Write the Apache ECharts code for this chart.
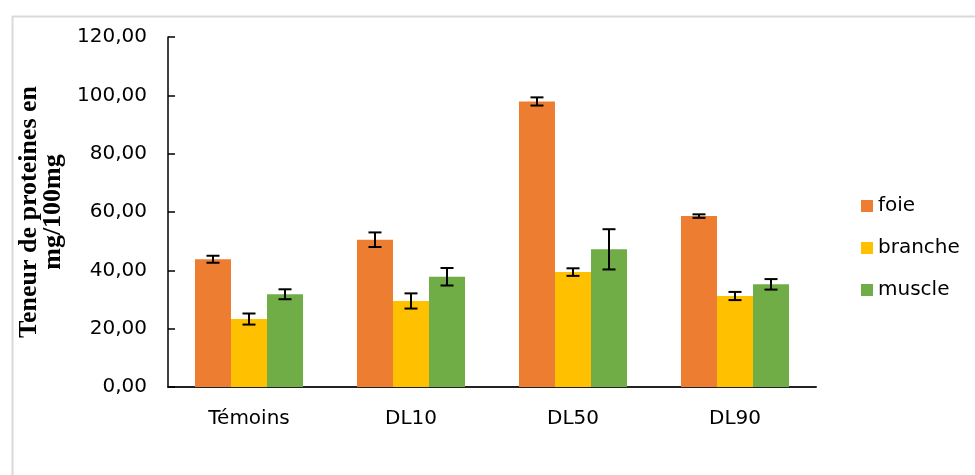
<!DOCTYPE html>
<html>
<head>
<meta charset="utf-8">
<script src="https://cdn.jsdelivr.net/npm/echarts@6/dist/echarts.min.js"></script>
<style>html,body{margin:0;padding:0;background:#fff;}#chart{width:975px;height:475px;}</style>
</head>
<body>
<div id="chart"></div>
<script>
const categories = ['Témoins', 'DL10', 'DL50', 'DL90'];
const seriesNames = ['foie', 'branche', 'muscle'];
const foie = [43.8, 50.5, 97.9, 58.6];
const branche = [23.3, 29.5, 39.4, 31.2];
const muscle = [31.8, 37.8, 47.2, 35.2];
const foieErr = [1.2, 2.5, 1.4, 0.6];
const brancheErr = [1.9, 2.6, 1.3, 1.4];
const muscleErr = [1.7, 3.0, 6.9, 1.8];
const colors = ['#ED7D31', '#FFC000', '#70AD47'];
const yTitle = 'Teneur de proteines en\nmg/100mg';

const values = [foie, branche, muscle];
const errs = [foieErr, brancheErr, muscleErr];
const gapRatio = 0.333;

const chart = echarts.init(document.getElementById('chart'));

function errSeries(k) {
  return {
    type: 'custom',
    name: seriesNames[k] + '_err',
    z: 10,
    silent: true,
    data: categories.map((c, i) => [i, values[k][i] - errs[k][i], values[k][i] + errs[k][i]]),
    renderItem: function (params, api) {
      const catW = api.size([1, 0])[0];
      const barW = catW * (1 - gapRatio) / 3;
      const off = (k - 1) * barW;
      const lo = api.coord([api.value(0), api.value(1)]);
      const hi = api.coord([api.value(0), api.value(2)]);
      const x = lo[0] + off;
      const cap = 6.5;
      const st = { stroke: '#000', lineWidth: 2 };
      return {
        type: 'group',
        children: [
          { type: 'line', shape: { x1: x, y1: lo[1], x2: x, y2: hi[1] }, style: st },
          { type: 'line', shape: { x1: x - cap, y1: lo[1], x2: x + cap, y2: lo[1] }, style: st },
          { type: 'line', shape: { x1: x - cap, y1: hi[1], x2: x + cap, y2: hi[1] }, style: st }
        ]
      };
    }
  };
}

const option = {
  animation: false,
  backgroundColor: '#fff',
  graphic: [{
    type: 'rect', left: 10, top: 14, z: -1,
    shape: { width: 1000, height: 500 },
    style: { fill: 'none', stroke: '#d9d9d9', lineWidth: 2 }
  }],
  grid: { left: 168, top: 37, width: 648, height: 350 },
  legend: {
    orient: 'vertical', left: 856, top: 191,
    itemWidth: 12, itemHeight: 12, itemGap: 22,
    icon: 'rect',
    data: seriesNames,
    textStyle: { fontFamily: 'DejaVu Sans', fontSize: 20, color: '#000' }
  },
  xAxis: {
    type: 'category',
    data: categories,
    axisLine: { lineStyle: { color: '#222', width: 2 } },
    axisTick: { show: false },
    axisLabel: { fontFamily: 'DejaVu Sans', fontSize: 20, color: '#000', margin: 22 }
  },
  yAxis: {
    type: 'value', min: 0, max: 120, interval: 20,
    name: yTitle,
    nameLocation: 'middle', nameRotate: 90, nameGap: 93,
    nameTextStyle: { fontFamily: 'Liberation Serif', fontWeight: 'bold', fontSize: 26, lineHeight: 24, color: '#000', align: 'center' },
    axisLine: { show: true, lineStyle: { color: '#000', width: 1.5 } },
    axisTick: { show: true, inside: true, length: 7, lineStyle: { color: '#000', width: 1.5 } },
    splitLine: { show: false },
    axisLabel: {
      fontFamily: 'DejaVu Sans', fontSize: 20, color: '#000', margin: 21,
      formatter: v => v.toFixed(2).replace('.', ',')
    }
  },
  series: seriesNames.map((n, k) => ({
    type: 'bar', name: n, data: values[k],
    barGap: '0%', barCategoryGap: '33.3%',
    itemStyle: { color: colors[k] }
  })).concat([0, 1, 2].map(errSeries))
};
chart.setOption(option);
</script>
</body>
</html>
